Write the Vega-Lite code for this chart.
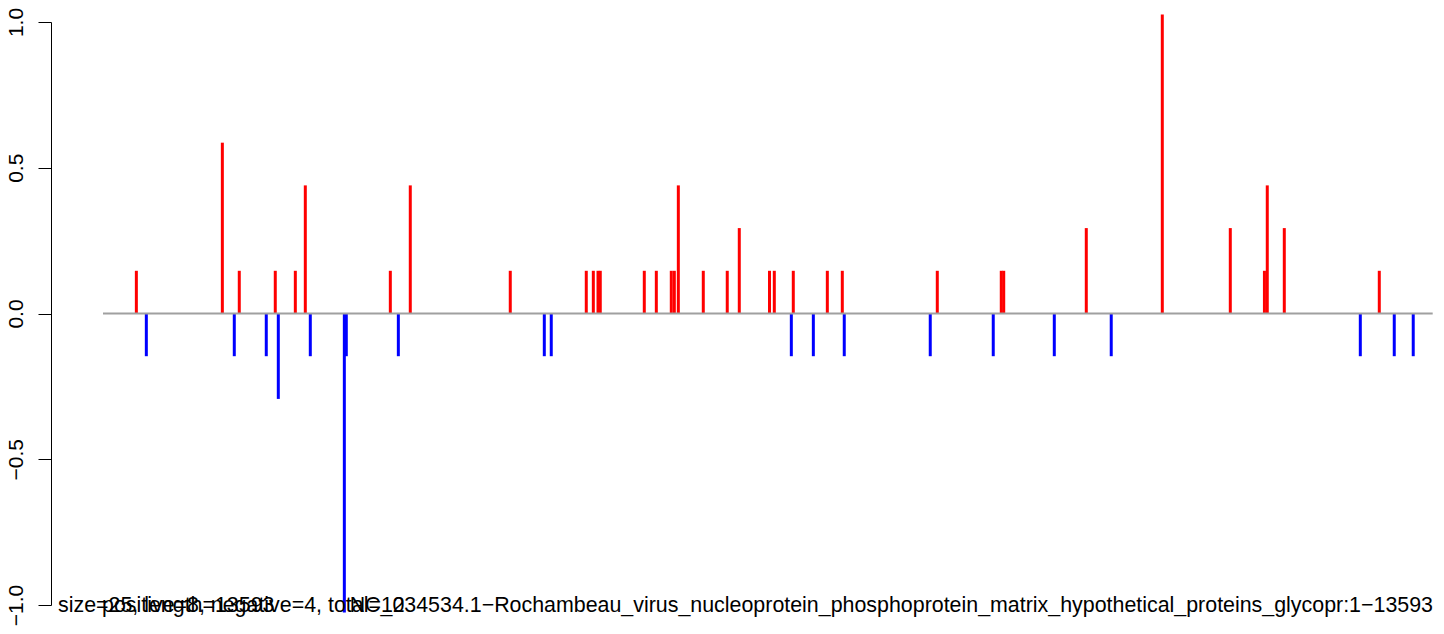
{
  "$schema": "https://vega.github.io/schema/vega-lite/v6.json",
  "width": 1393,
  "height": 583,
  "autosize": {"type": "none"},
  "padding": {"left": 51, "top": 22, "right": 0, "bottom": 29},
  "background": "white",
  "config": {"view": {"stroke": null}, "font": "Liberation Sans"},
  "datasets": {
    "bars": [
      {"pos": 342, "v": 0.1465, "strand": "+"},
      {"pos": 444, "v": -0.1465, "strand": "-"},
      {"pos": 1221, "v": 0.586, "strand": "+"},
      {"pos": 1343, "v": -0.1465, "strand": "-"},
      {"pos": 1394, "v": 0.1465, "strand": "+"},
      {"pos": 1670, "v": -0.1465, "strand": "-"},
      {"pos": 1762, "v": 0.1465, "strand": "+"},
      {"pos": 1793, "v": -0.293, "strand": "-"},
      {"pos": 1967, "v": 0.1465, "strand": "+"},
      {"pos": 2069, "v": 0.4395, "strand": "+"},
      {"pos": 2120, "v": -0.1465, "strand": "-"},
      {"pos": 2468, "v": -1.0255, "strand": "-"},
      {"pos": 2488, "v": -0.1465, "strand": "-"},
      {"pos": 2938, "v": 0.1465, "strand": "+"},
      {"pos": 3020, "v": -0.1465, "strand": "-"},
      {"pos": 3142, "v": 0.4395, "strand": "+"},
      {"pos": 4164, "v": 0.1465, "strand": "+"},
      {"pos": 4512, "v": -0.1465, "strand": "-"},
      {"pos": 4583, "v": -0.1465, "strand": "-"},
      {"pos": 4941, "v": 0.1465, "strand": "+"},
      {"pos": 5013, "v": 0.1465, "strand": "+"},
      {"pos": 5061, "v": 0.1465, "strand": "+"},
      {"pos": 5084, "v": 0.1465, "strand": "+"},
      {"pos": 5534, "v": 0.1465, "strand": "+"},
      {"pos": 5657, "v": 0.1465, "strand": "+"},
      {"pos": 5810, "v": 0.1465, "strand": "+"},
      {"pos": 5841, "v": 0.1465, "strand": "+"},
      {"pos": 5882, "v": 0.4395, "strand": "+"},
      {"pos": 6137, "v": 0.1465, "strand": "+"},
      {"pos": 6382, "v": 0.1465, "strand": "+"},
      {"pos": 6505, "v": 0.293, "strand": "+"},
      {"pos": 6814, "v": 0.1465, "strand": "+"},
      {"pos": 6863, "v": 0.1465, "strand": "+"},
      {"pos": 7037, "v": -0.1465, "strand": "-"},
      {"pos": 7057, "v": 0.1465, "strand": "+"},
      {"pos": 7262, "v": -0.1465, "strand": "-"},
      {"pos": 7405, "v": 0.1465, "strand": "+"},
      {"pos": 7558, "v": 0.1465, "strand": "+"},
      {"pos": 7578, "v": -0.1465, "strand": "-"},
      {"pos": 8457, "v": -0.1465, "strand": "-"},
      {"pos": 8529, "v": 0.1465, "strand": "+"},
      {"pos": 9101, "v": -0.1465, "strand": "-"},
      {"pos": 9183, "v": 0.1465, "strand": "+"},
      {"pos": 9208, "v": 0.1465, "strand": "+"},
      {"pos": 9725, "v": -0.1465, "strand": "-"},
      {"pos": 10052, "v": 0.293, "strand": "+"},
      {"pos": 10307, "v": -0.1465, "strand": "-"},
      {"pos": 10829, "v": 1.0255, "strand": "+"},
      {"pos": 11524, "v": 0.293, "strand": "+"},
      {"pos": 11873, "v": 0.1465, "strand": "+"},
      {"pos": 11902, "v": 0.4395, "strand": "+"},
      {"pos": 12076, "v": 0.293, "strand": "+"},
      {"pos": 12853, "v": -0.1465, "strand": "-"},
      {"pos": 13047, "v": 0.1465, "strand": "+"},
      {"pos": 13200, "v": -0.1465, "strand": "-"},
      {"pos": 13394, "v": -0.1465, "strand": "-"}
    ],
    "baseline": [{"start": 1, "end": 13593, "y": 0}],
    "leftLabels": [
      {"x": -459, "y": -1, "t": "size=25, length=13593"},
      {"x": -9, "y": -1, "t": "positive=8, negative=4, total=12"}
    ],
    "rightLabels": [
      {"x": 13596, "y": -1, "t": "NC_034534.1−Rochambeau_virus_nucleoprotein_phosphoprotein_matrix_hypothetical_proteins_glycopr:1−13593"}
    ]
  },
  "layer": [
    {
      "data": {"name": "bars"},
      "mark": {"type": "rule", "strokeWidth": 3},
      "encoding": {
        "x": {"field": "pos", "type": "quantitative", "scale": {"domain": [-530.5, 13708.5], "nice": false, "zero": false}, "axis": null},
        "y": {"field": "v", "type": "quantitative", "scale": {"domain": [-1, 1], "nice": false, "zero": false},
          "axis": {"title": null, "values": [-1, -0.5, 0, 0.5, 1], "format": ".1f", "grid": false,
            "domainColor": "black", "domainWidth": 1, "tickColor": "black", "tickWidth": 1, "tickSize": 13,
            "labelColor": "black", "labelFontSize": 21, "labelFont": "Liberation Sans", "labelAngle": 270,
            "labelAlign": "center", "labelBaseline": "alphabetic", "labelPadding": 16, "labelFlush": false, "labelOverlap": false}},
        "y2": {"datum": 0},
        "color": {"field": "strand", "type": "nominal", "scale": {"domain": ["+", "-"], "range": ["#ff0000", "#0000ff"]}, "legend": null}
      }
    },
    {
      "data": {"name": "baseline"},
      "mark": {"type": "rule", "color": "#a0a0a0", "strokeWidth": 2},
      "encoding": {
        "x": {"field": "start", "type": "quantitative"},
        "x2": {"field": "end"},
        "y": {"field": "y", "type": "quantitative"}
      }
    },
    {
      "data": {"name": "leftLabels"},
      "mark": {"type": "text", "align": "left", "baseline": "alphabetic", "dy": 7, "fontSize": 21.4, "font": "Liberation Sans", "color": "black"},
      "encoding": {
        "x": {"field": "x", "type": "quantitative"},
        "y": {"field": "y", "type": "quantitative"},
        "text": {"field": "t", "type": "nominal"}
      }
    },
    {
      "data": {"name": "rightLabels"},
      "mark": {"type": "text", "align": "right", "baseline": "alphabetic", "dy": 7, "fontSize": 21.4, "font": "Liberation Sans", "color": "black"},
      "encoding": {
        "x": {"field": "x", "type": "quantitative"},
        "y": {"field": "y", "type": "quantitative"},
        "text": {"field": "t", "type": "nominal"}
      }
    }
  ]
}
